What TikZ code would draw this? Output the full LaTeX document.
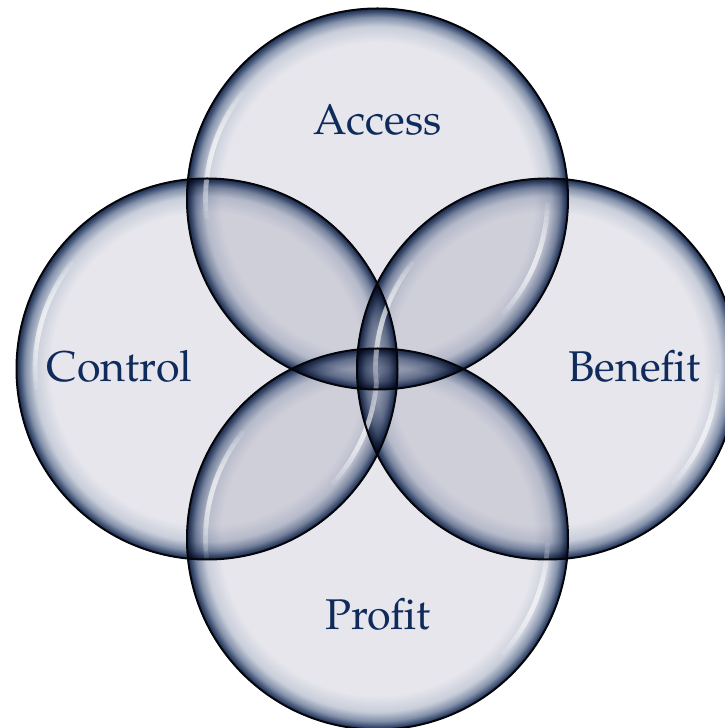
\documentclass[tikz,border=0pt]{standalone}
\usepackage[T1]{fontenc}
\usepackage{mathpazo}

\definecolor{bubblein}{HTML}{E6E6EC}
\definecolor{bubblesoft}{HTML}{C9CEDA}
\definecolor{bubblemid}{HTML}{8391AA}
\definecolor{bubbledark}{HTML}{34466A}
\definecolor{bubblerim}{HTML}{1B2A47}
\definecolor{bubbleink}{HTML}{0F2B5B}

\pgfdeclareradialshading{bubble}{\pgfpoint{0bp}{0bp}}{%
  color(0bp)=(bubblein); color(20.5bp)=(bubblein); color(22.6bp)=(bubblesoft);
  color(23.8bp)=(bubblemid); color(24.6bp)=(bubbledark); color(25bp)=(bubblerim);
  color(50bp)=(bubblerim)}

\begin{document}
\begin{tikzpicture}[x=0.5pt, y=0.5pt,
  bubbledisc/.style={circle, minimum size=191pt, inner sep=0pt, shading=bubble},
  bubbleline/.style={draw=black!85!bubblerim, line width=1pt},
  bubbletext/.style={anchor=base, color=bubbleink, font=\fontsize{21.5}{24}\selectfont},
  gloss/.style={draw=white, line cap=round, line width=2.4pt, opacity=0.13}]
\useasboundingbox (0,0) rectangle (724,728);

% the four bubbles
\begin{scope}[blend mode=multiply]
\node[bubbledisc] (access) at (377.5, 529) {};
\node[bubbledisc] (control) at (207, 359) {};
\node[bubbledisc] (benefit) at (547.5, 359) {};
\node[bubbledisc] (profit) at (377.5, 189) {};
\end{scope}

% glassy highlights
\foreach \b in {access, control, benefit, profit}
  \foreach \k in {0,...,7} {
    \draw[gloss] ([shift={(142+2.6*\k:172)}]\b.center) arc[start angle=142+2.6*\k, end angle=186-2.6*\k, radius=172];
    \draw[gloss] ([shift={(-2-2.3*\k:170)}]\b.center) arc[start angle=-2-2.3*\k, end angle=-42+2.3*\k, radius=170];
  }

% outlines
\foreach \b in {access, control, benefit, profit}
  \draw[bubbleline] (\b.center) circle[radius=190.5];

\node[bubbletext] (accesslabel) at (377.5, 593) {Access};
\node[bubbletext] (controllabel) at (119.5, 346) {Control};
\node[bubbletext] (benefitlabel) at (634.5, 346) {Benefit};
\node[bubbletext] (profitlabel) at (378, 98) {Profit};
\end{tikzpicture}
\end{document}
